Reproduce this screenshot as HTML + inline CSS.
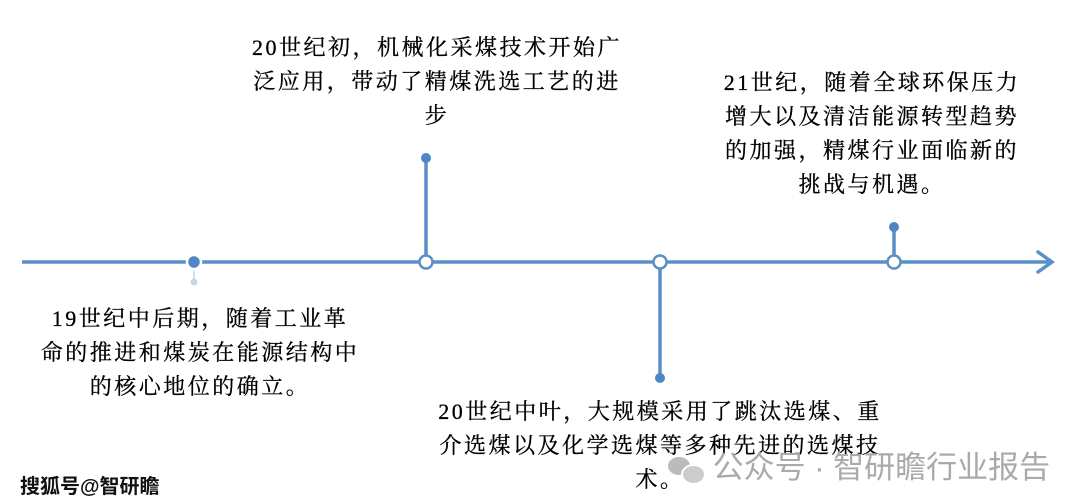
<!DOCTYPE html>
<html><head><meta charset="utf-8"><style>
html,body{margin:0;padding:0;background:#fff;}
body{width:1080px;height:504px;position:relative;overflow:hidden;font-family:"Liberation Serif","Noto Serif CJK SC",serif;}
.t{position:absolute;font-size:22px;letter-spacing:2.5px;line-height:34px;color:#000;text-align:center;white-space:nowrap;-webkit-text-stroke:0.3px #000;}
</style></head><body>
<svg width="1080" height="504" style="position:absolute;left:0;top:0">
<g stroke="#5b8fc7" stroke-width="3.5" fill="none">
<line x1="22" y1="262" x2="1050" y2="262"/>
<polyline points="1038,252 1052,262 1038,272" stroke-linecap="round"/>
<line x1="426" y1="158" x2="426" y2="262"/>
<line x1="660" y1="262" x2="660" y2="378"/>
<line x1="894" y1="227" x2="894" y2="262"/>
</g>
<line x1="194" y1="262" x2="194" y2="282" stroke="#c9d6e6" stroke-width="1.5"/>
<circle cx="194" cy="282" r="3.5" fill="#c9d6e6"/>
<circle cx="194" cy="262" r="7" fill="#4f86c6" stroke="#fff" stroke-width="2.5"/>
<g fill="#fff" stroke="#5b8fc7" stroke-width="2.5">
<circle cx="426" cy="262" r="6.5"/><circle cx="660" cy="262" r="6.5"/><circle cx="894" cy="262" r="6.5"/>
</g>
<g fill="#4f86c6"><circle cx="426" cy="158" r="5"/><circle cx="660" cy="378" r="5"/><circle cx="894" cy="227" r="5"/></g>
</svg>
<div class="t" style="left:237px;top:31px;width:400px">20世纪初，机械化采煤技术开始广<br>泛应用，带动了精煤洗选工艺的进<br>步</div>
<div class="t" style="left:722px;top:66px;width:300px">21世纪，随着全球环保压力<br>增大以及清洁能源转型趋势<br>的加强，精煤行业面临新的<br>挑战与机遇。</div>
<div class="t" style="left:40px;top:302px;width:320px">19世纪中后期，随着工业革<br>命的推进和煤炭在能源结构中<br>的核心地位的确立。</div>
<div class="t" style="left:410px;top:395px;width:500px">20世纪中叶，大规模采用了跳汰选煤、重<br>介选煤以及化学选煤等多种先进的选煤技<br>术。</div>
<div style="position:absolute;left:668px;top:442px;font-family:'Liberation Sans','Noto Sans CJK SC',sans-serif;font-size:31px;color:#aaa;white-space:nowrap;">
<span style="display:inline-block;width:36px;height:26px;vertical-align:-3px;position:relative"><span style="position:absolute;left:0;top:2px;width:22px;height:18px;border-radius:50%;background:#bbb"></span><span style="position:absolute;left:13px;top:9px;width:21px;height:17px;border-radius:50%;background:#ccc;border:2px solid #fff"></span></span> 公众号 · 智研瞻行业报告</div>
<div style="position:absolute;left:20px;top:470px;font-family:'Liberation Sans','Noto Sans CJK SC',sans-serif;font-size:20px;font-weight:bold;color:#111;white-space:nowrap;">搜狐号@智研瞻</div>
</body></html>
